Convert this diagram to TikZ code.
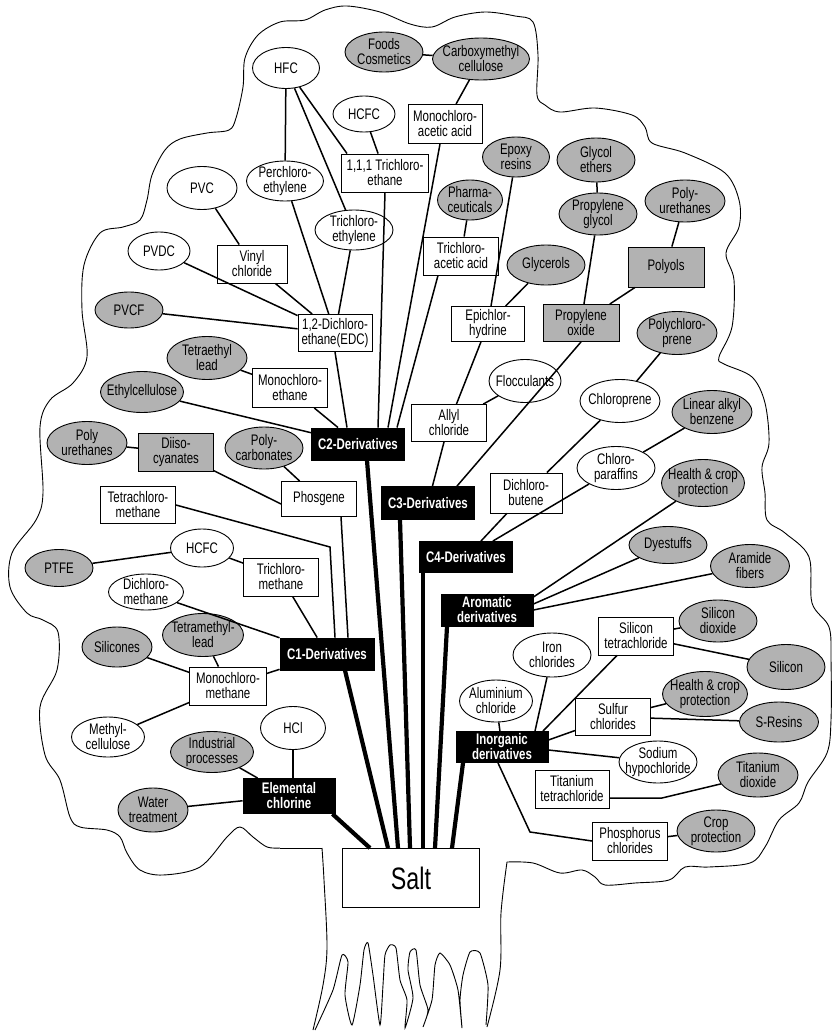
\documentclass[tikz,border=0pt]{standalone}
\usepackage{fontspec}
\setmainfont{Liberation Sans}[FakeStretch=0.75]
\usetikzlibrary{shapes.geometric}
\newcommand\nf{\fontsize{15.3}{15}\selectfont}
\colorlet{shade}{black!30}
\tikzset{
 base/.style={draw, line width=0.9pt, align=center, font=\nf, text=black},
 ov/.style 2 args={base, ellipse, inner xsep=-6pt, inner ysep=-3pt, minimum width=#1, minimum height=#2},
 sov/.style 2 args={ov={#1}{#2}, fill=shade},
 bx/.style 2 args={base, rectangle, inner sep=1pt, minimum width=#1, minimum height=#2},
 sbx/.style 2 args={bx={#1}{#2}, fill=shade},
 blk/.style 2 args={bx={#1}{#2}, fill=black, text=white, font=\nf\bfseries},
 cn/.style={line width=1.5pt},
 trunk/.style={line width=4.2pt},
 outl/.style={line width=0.9pt}
}
\begin{document}
\begin{tikzpicture}[x=1pt,y=-1pt]
\path[use as bounding box] (0,0) rectangle (832,1033);
% outline of the tree
\draw[outl] plot[smooth, tension=0.55] coordinates {(313,1030) (323,985) (327,947) (324,880) (322,848)};
\draw[outl] (322,848) -- (280,848);
\draw[outl] plot[smooth, tension=0.55] coordinates {(280,848) (267,847) (253,837) (240,827) (227,837) (200,867) (163,875) (140,870) (127,853) (120,837) (107,830) (80,827) (70,817) (60,780) (45,755) (40,707) (57,670) (58,632) (43,620) (27,613) (10,587) (12,553) (36,520) (43,493) (40,427) (50,400) (73,383) (87,357) (82,310) (84,265) (100,233) (123,227) (140,220) (147,200) (152,175) (165,150) (180,139) (207,133) (229,130) (236,118) (243,87) (245,58) (258,35) (280,22) (305,20) (325,10) (347,6) (380,12) (410,24) (432,27) (455,17) (485,12) (515,16) (533,22) (538,55) (537,95) (545,105) (560,112) (595,108) (632,115) (645,127) (652,143) (685,153) (725,173) (739,200) (739,227) (726,253) (734,280) (732,327) (719,357) (724,364) (752,377) (765,403) (769,443) (762,467) (765,493) (767,520) (785,533) (809,557) (812,603) (829,627) (831,660) (831,720) (827,753) (808,782) (799,803) (779,820) (765,847) (750,863) (709,867) (685,867) (669,880) (635,883) (605,885) (595,877) (582,870) (560,873) (533,863) (507,862)};
\draw[outl] plot[smooth, tension=0.55] coordinates {(507,862) (501,913) (500,970) (487,1027)};
% roots
\draw[outl] plot[smooth, tension=0.35] coordinates {(315,1030) (333,990) (342,955) (348,962) (345,995) (352,1025) (360,985) (364,950) (368,943) (373,975) (380,1025) (383,985) (385,955) (390,945) (396,948) (400,980) (407,1000) (405,1028) (413,998) (408,970) (410,952) (416,950) (420,985) (428,1010) (423,1027) (432,1000) (435,965) (440,953) (450,965) (458,990) (462,1028) (460,1000) (463,975) (470,952) (480,953) (488,985) (486,1025)};

% ---------- nodes ----------
\node[ov={67}{41}] (hfc) at (286,68) {HFC};
\node[sov={78}{40}] (foods) at (384,52) {Foods\\Cosmetics};
\node[sov={97}{42}] (cmc) at (481,59) {Carboxymethyl\\cellulose};
\node[ov={62}{36}] (hcfc1) at (364,114) {HCFC};
\node[bx={74}{39}] (mca) at (445,124) {Monochloro-\\acetic acid};
\node[bx={87}{38}] (tce111) at (385,173) {1,1,1 Trichloro-\\ethane};
\node[sov={67}{40}] (epoxy) at (516,157) {Epoxy\\resins};
\node[sov={78}{44}] (glyeth) at (596,160) {Glycol\\ethers};
\node[ov={70}{43}] (pvc) at (202,188) {PVC};
\node[ov={77}{40}] (perc) at (285,181) {Perchloro-\\ethylene};
\node[sov={65}{40}] (pharma) at (470,200) {Pharma-\\ceuticals};
\node[sov={78}{42}] (pglycol) at (598,214) {Propylene\\glycol};
\node[sov={80}{42}] (pu1) at (685,201) {Poly-\\urethanes};
\node[ov={78}{40}] (trieth) at (354,230) {Trichloro-\\ethylene};
\node[bx={75}{38}] (tca) at (461,256) {Trichloro-\\acetic acid};
\node[ov={62}{38}] (pvdc) at (159,251) {PVDC};
\node[bx={70}{38}] (vinyl) at (252,264) {Vinyl\\chloride};
\node[sov={78}{40}] (glycerols) at (546,265) {Glycerols};
\node[sbx={76}{40}] (polyols) at (666,267) {Polyols};
\node[sov={68}{36}] (pvcf) at (129,310) {PVCF};
\node[bx={74}{37}] (edc) at (335,333) {1,2-Dichloro-\\ethane(EDC)};
\node[bx={73}{35}] (epi) at (488,324) {Epichlor-\\hydrine};
\node[sbx={76}{37}] (pox) at (581,323) {Propylene\\oxide};
\node[sov={80}{43}] (pcp) at (677,333) {Polychloro-\\prene};
\node[sov={80}{43}] (tel) at (207,358) {Tetraethyl\\lead};
\node[bx={75}{39}] (mce) at (290,388) {Monochloro-\\ethane};
\node[ov={72}{43}] (floc) at (525,381) {Flocculants};
\node[ov={80}{43}] (cpr) at (620,401) {Chloroprene};
\node[sov={80}{43}] (lab) at (712,412) {Linear alkyl\\benzene};
\node[sov={83}{41}] (ethc) at (142,392) {Ethylcellulose};
\node[bx={75}{37}] (allyl) at (449,423) {Allyl\\chloride};
\node[blk={93}{32}] (c2) at (358,444) {C2-Derivatives};
\node[sov={80}{43}] (pu2) at (87,443) {Poly\\urethanes};
\node[sbx={75}{38}] (diiso) at (176,452) {Diiso-\\cyanates};
\node[sov={78}{42}] (pcarb) at (264,448) {Poly-\\carbonates};
\node[ov={78}{43}] (cpar) at (616,468) {Chloro-\\paraffins};
\node[sov={83}{47}] (hcp1) at (703,483) {Health \& crop\\protection};
\node[bx={72}{40}] (dcb) at (526,493) {Dichloro-\\butene};
\node[bx={75}{35}] (phos) at (319,499) {Phosgene};
\node[blk={93}{33}] (c3) at (428,503) {C3-Derivatives};
\node[bx={75}{37}] (tcm4) at (138,505) {Tetrachloro-\\methane};
\node[ov={63}{38}] (hcfc2) at (202,548) {HCFC};
\node[sov={68}{37}] (ptfe) at (59,568) {PTFE};
\node[blk={93}{31}] (c4) at (466,557) {C4-Derivatives};
\node[sov={78}{37}] (dyes) at (668,545) {Dyestuffs};
\node[sov={79}{43}] (aramid) at (750,566) {Aramide\\fibers};
\node[bx={75}{38}] (tcm3) at (281,577) {Trichloro-\\methane};
\node[ov={75}{36}] (dcm) at (146,592) {Dichloro-\\methane};
\node[blk={92}{32}] (arom) at (487,610) {Aromatic\\derivatives};
\node[sov={81}{43}] (tml) at (203,635) {Tetramethyl-\\lead};
\node[sov={70}{40}] (silicones) at (117,647) {Silicones};
\node[blk={94}{32}] (c1) at (327,654) {C1-Derivatives};
\node[bx={75}{38}] (sicl) at (636,636) {Silicon\\tetrachloride};
\node[sov={78}{42}] (sio2) at (718,621) {Silicon\\dioxide};
\node[ov={78}{44}] (iron) at (552,655) {Iron\\chlorides};
\node[sov={78}{45}] (silicon) at (786,667) {Silicon};
\node[bx={77}{38}] (mcm) at (228,686) {Monochloro-\\methane};
\node[ov={73}{42}] (alcl) at (496,701) {Aluminium\\chloride};
\node[sov={85}{45}] (hcp2) at (705,694) {Health \& crop\\protection};
\node[bx={75}{37}] (sulfur) at (613,717) {Sulfur\\chlorides};
\node[sov={79}{40}] (sres) at (779,722) {S-Resins};
\node[ov={65}{43}] (hcl) at (293,728) {HCl};
\node[ov={73}{40}] (methc) at (108,737) {Methyl-\\cellulose};
\node[sov={83}{41}] (indus) at (212,752) {Industrial\\processes};
\node[blk={92}{31}] (inorg) at (502,747) {Inorganic\\derivatives};
\node[ov={78}{42}] (naocl) at (658,762) {Sodium\\hypochloride};
\node[bx={74}{38}] (ticl) at (572,789) {Titanium\\tetrachloride};
\node[sov={80}{44}] (tio2) at (758,775) {Titanium\\dioxide};
\node[blk={92}{35}] (elcl) at (289,796) {Elemental\\chlorine};
\node[sov={70}{44}] (water) at (153,810) {Water\\treatment};
\node[bx={75}{38}] (pcl) at (630,841) {Phosphorus\\chlorides};
\node[sov={78}{42}] (crop) at (716,831) {Crop\\protection};
\node[bx={137}{59}, font=\fontsize{31}{32}\selectfont] (salt) at (411,878) {Salt};

\coordinate (k1) at (330,547);
\coordinate (k2) at (530,832);
\coordinate (k3) at (662,798);

% ---------- connectors ----------
\draw[cn] (foods) -- (cmc);
\draw[cn] (cmc) -- (mca);
\draw[cn] (hfc) -- (perc);
\draw[cn] (hfc) -- (trieth);
\draw[cn] (hfc) -- ([xshift=-38pt]tce111.north);
\draw[cn] (hcfc1) -- (tce111);
\draw[cn] (pharma) -- (tca);
\draw[cn] (epoxy) -- (epi);
\draw[cn] (glycerols) -- (epi);
\draw[cn] (glyeth) -- (pglycol);
\draw[cn] (pglycol) -- (pox);
\draw[cn] (pu1) -- (polyols);
\draw[cn] (polyols) -- (pox);
\draw[cn] (pvc) -- (vinyl);
\draw[cn] (vinyl) -- (edc);
\draw[cn] (pvdc) -- (edc);
\draw[cn] (pvcf) -- (edc);
\draw[cn] (perc) -- (edc);
\draw[cn] (trieth) -- (edc);
\draw[cn] (edc.south) -- ([xshift=-11pt]c2.north);
\draw[cn] (tce111.south) -- ([xshift=20pt]c2.north);
\draw[cn] ([xshift=-5pt]mca.south) -- ([xshift=30pt]c2.north);
\draw[cn] ([xshift=-23pt]tca.south) -- ([xshift=39pt]c2.north);
\draw[cn] (tel) -- (mce);
\draw[cn] (mce) -- (c2);
\draw[cn] (ethc) -- (c2);
\draw[cn] (epi) -- (allyl);
\draw[cn] (floc) -- (allyl);
\draw[cn] (allyl) -- (c3);
\draw[cn] (pox.south) -- ([xshift=29pt]c3.north);
\draw[cn] (pcp) -- (cpr);
\draw[cn] (cpr) -- (dcb);
\draw[cn] (lab) -- (cpar);
\draw[cn] (cpar) -- (c4);
\draw[cn] (dcb) -- (c4);
\draw[cn] (hcp1) -- ([yshift=13pt]arom.east);
\draw[cn] (dyes) -- ([yshift=6pt]arom.east);
\draw[cn] (aramid) -- (arom.east);
\draw[cn] (pu2) -- (diiso);
\draw[cn] (diiso) -- ([yshift=-5pt]phos.west);
\draw[cn] (pcarb) -- (phos);
\draw[cn] ([xshift=22pt]phos.south) -- ([xshift=21pt]c1.north);
\draw[cn] (tcm4.east) -- (k1) -- ([xshift=8pt]c1.north);
\draw[cn] (ptfe) -- (hcfc2);
\draw[cn] (hcfc2) -- (tcm3);
\draw[cn] (tcm3) -- (c1);
\draw[cn] (dcm) -- (c1);
\draw[cn] (tml) -- (mcm);
\draw[cn] (silicones) -- (mcm);
\draw[cn] (methc) -- (mcm);
\draw[cn] (mcm) -- (c1);
\draw[cn] (alcl) -- (inorg);
\draw[cn] (iron) -- ([xshift=33pt]inorg.north);
\draw[cn] (sicl) -- ([xshift=41pt]inorg.north);
\draw[cn] (sicl) -- (sio2);
\draw[cn] (sicl) -- (silicon);
\draw[cn] (sulfur) -- ([yshift=7pt]inorg.east);
\draw[cn] (sulfur) -- (hcp2);
\draw[cn] (sulfur) -- (sres);
\draw[cn] ([yshift=-3pt]inorg.east) -- (naocl);
\draw[cn] ([xshift=-4pt]inorg.south) -- (k2) -- (pcl.west);
\draw[cn] ([yshift=-9pt]ticl.east) -- (k3) -- (tio2);
\draw[cn] (pcl) -- (crop);
\draw[cn] (hcl) -- (hcl |- elcl.north);
\draw[cn] (indus) -- (elcl);
\draw[cn] (water) -- (elcl);

% ---------- trunks ----------
\draw[trunk] ([xshift=-3pt]elcl.south east) -- ([xshift=-41pt]salt.north);
\draw[trunk] ([xshift=18pt]c1.south) -- ([xshift=-23pt]salt.north);
\draw[trunk] ([xshift=9pt]c2.south) -- ([xshift=-13pt]salt.north);
\draw[trunk] ([xshift=-28pt]c3.south) -- ([xshift=-1pt]salt.north);
\draw[trunk] ([xshift=-43pt]c4.south) -- ([xshift=12pt]salt.north);
\draw[trunk] ([xshift=-40pt]arom.south) -- ([xshift=24pt]salt.north);
\draw[trunk] ([xshift=-39pt]inorg.south) -- ([xshift=41pt]salt.north);
\end{tikzpicture}
\end{document}
